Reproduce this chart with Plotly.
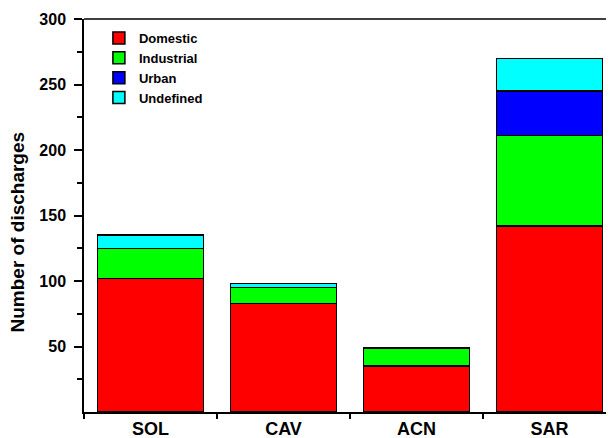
import plotly.graph_objects as go

categories = ["SOL", "CAV", "ACN", "SAR"]
domestic = [102, 83, 35, 142]
industrial = [23, 12, 14, 69]
urban = [0, 0, 0, 34]
undefined = [10, 3, 0, 25]

series = [
    ("Domestic", domestic, "#FF0000"),
    ("Industrial", industrial, "#00FF00"),
    ("Urban", urban, "#0000FF"),
    ("Undefined", undefined, "#00FFFF"),
]

y_title = "Number of discharges"
font_family = "Liberation Sans, Arial, sans-serif"

fig = go.Figure()
for name, vals, color in series:
    fig.add_trace(go.Bar(
        x=categories, y=vals, name=name,
        marker=dict(color=color, line=dict(color="black", width=1.5)),
        width=0.8,
    ))

# page body has an 8px default margin, so the layout is offset by -8px
fig.update_layout(
    barmode="stack",
    width=614, height=438,
    margin=dict(l=76, r=6, t=11, b=34),
    paper_bgcolor="white", plot_bgcolor="white",
    font=dict(family=font_family, color="black"),
    showlegend=True,
    legend=dict(
        x=0.028, y=0.99, xanchor="left", yanchor="top",
        bgcolor="rgba(0,0,0,0)",
        font=dict(size=13, family=font_family, weight="bold"),
        traceorder="normal",
        itemwidth=30,
        tracegroupgap=0,
    ),
    xaxis=dict(
        type="category",
        range=[-0.5, 3.5],
        showline=True, linecolor="black", linewidth=1.5,
        ticks="outside", tickson="boundaries", ticklen=5, tickwidth=1.5,
        tickcolor="black",
        tickfont=dict(size=18, weight="bold"),
        showgrid=False, zeroline=False, automargin=False,
    ),
    yaxis=dict(
        range=[0, 300],
        tickvals=[50, 100, 150, 200, 250, 300],
        showline=True, linecolor="black", linewidth=1.5,
        ticks="outside", ticklen=8, tickwidth=1.5, tickcolor="black",
        ticklabelstandoff=5,
        minor=dict(tickvals=[25, 75, 125, 175, 225, 275], ticklen=5,
                   tickwidth=1.5, tickcolor="black", ticks="outside"),
        tickfont=dict(size=16, weight="bold"),
        showgrid=False, zeroline=False, automargin=False,
    ),
    shapes=[dict(type="line", xref="paper", yref="paper", x0=0, x1=1.02, y0=1, y1=1,
                 line=dict(color="black", width=1.5))],
    annotations=[dict(
        text=y_title, textangle=-90, showarrow=False,
        xref="paper", yref="paper", x=-0.125, y=0.458,
        xanchor="center", yanchor="middle",
        font=dict(size=19, weight="bold", family=font_family),
    )],
)

fig.write_html("out.html")
